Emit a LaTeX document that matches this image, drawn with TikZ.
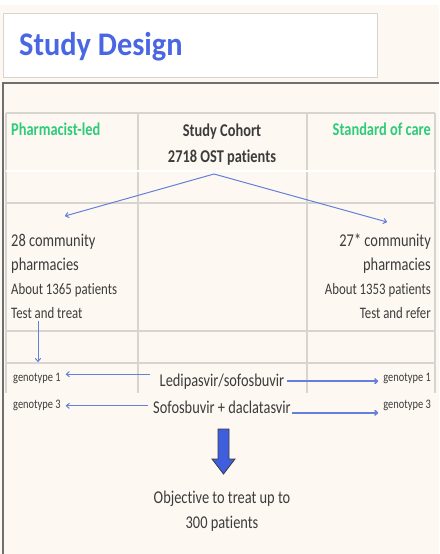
\documentclass[tikz,border=0pt]{standalone}
\usepackage{fontspec}
\setmainfont{Carlito}[FakeStretch=0.8,Ligatures=NoCommon]
\newfontfamily\titlefont{Carlito}[FakeStretch=0.92,Ligatures=NoCommon]
\usetikzlibrary{calc,arrows.meta}
\definecolor{cream}{RGB}{253,248,242}
\definecolor{titleblue}{RGB}{74,103,227}
\definecolor{armgreen}{RGB}{46,204,122}
\definecolor{txtgray}{RGB}{60,60,60}
\definecolor{gridgray}{RGB}{216,212,207}
\definecolor{edgegray}{RGB}{110,110,110}
\definecolor{linkblue}{RGB}{100,128,218}
\definecolor{bigblue}{RGB}{62,94,222}
\tikzset{
  txt/.style={inner sep=0pt,text=txtgray,font=\fontsize{18}{22}\selectfont},
  smalltxt/.style={inner sep=0pt,text=txtgray,font=\fontsize{16}{20}\selectfont},
  genotxt/.style={inner sep=0pt,text=txtgray,font=\fontsize{13}{16}\selectfont},
  boldtxt/.style={inner sep=0pt,text=txtgray,font=\bfseries\fontsize{18}{22}\selectfont},
  armtxt/.style={inner sep=0pt,text=armgreen,font=\bfseries\fontsize{18}{22}\selectfont},
  link/.style={draw=linkblue,line width=1pt,-{To[length=4pt,width=6pt]}},
  tabline/.style={draw=gridgray,line width=1.2pt},
}
\begin{document}
\begin{tikzpicture}[x=1pt,y=-1pt]
    \useasboundingbox (0,0) rectangle (439,554);
    \fill[white] (0,0) rectangle (439,554);
    \fill[cream] (0,5) rectangle (439,554);
    \draw[gridgray,fill=white,line width=1pt] (3,13) rectangle (377,77);
    \node[anchor=base west,inner sep=0pt,text=titleblue,font=\titlefont\bfseries\fontsize{33}{36}\selectfont] (title) at (19,55) {Study Design};
    \draw[edgegray,line width=1.5pt] (439,83) -- (3,83) -- (3,554);
    \draw[tabline] (6,113) -- (435,113);
    \draw[tabline] (6,203) -- (435,203);
    \draw[tabline] (6,331) -- (435,331);
    \draw[tabline] (6,363) -- (435,363);
    \foreach \x in {6,138,307,435}
        \draw[tabline] (\x,113) -- (\x,393);
    \draw[white,line width=1.5pt] (6,171) -- (435,171);
    \node[armtxt,anchor=base west] (plead) at (11,135) {Pharmacist-led};
    \node[boldtxt,anchor=base] (cohort) at (222,136) {Study Cohort};
    \node[boldtxt,anchor=base] (ost) at (222,162) {2718 OST patients};
    \node[armtxt,anchor=base east] (soc) at (431,135) {Standard of care};
    \node[txt,anchor=base west] (pl1) at (11,246) {28 community};
    \node[txt,anchor=base west] (pl2) at (11,270) {pharmacies};
    \node[smalltxt,anchor=base west] (pl3) at (11,294) {About 1365 patients};
    \node[smalltxt,anchor=base west] (pl4) at (11,318) {Test and treat};
    \node[txt,anchor=base east] (sc1) at (431,246) {27* community};
    \node[txt,anchor=base east] (sc2) at (431,270) {pharmacies};
    \node[smalltxt,anchor=base east] (sc3) at (431,294) {About 1353 patients};
    \node[smalltxt,anchor=base east] (sc4) at (431,318) {Test and refer};
    \node[genotxt,anchor=base west] (g1l) at (13,381) {genotype 1};
    \node[genotxt,anchor=base east] (g1r) at (431,381) {genotype 1};
    \node[genotxt,anchor=base west] (g3l) at (13,408) {genotype 3};
    \node[genotxt,anchor=base east] (g3r) at (431,408) {genotype 3};
    \node[txt,anchor=base] (lds) at (222,386) {Ledipasvir/sofosbuvir};
    \node[txt,anchor=base] (sdc) at (222,413) {Sofosbuvir + daclatasvir};
    \node[txt,anchor=base] (obj1) at (222,503) {Objective to treat up to};
    \node[txt,anchor=base] (obj2) at (222,528) {300 patients};
    \coordinate (split) at (214,174);
    \coordinate (plin) at (65,216);
    \coordinate (scin) at (387,222);
    \coordinate (ttout) at (38,321);
    \coordinate (g1in) at (38,362);
    \draw[link] (split) -- (plin);
    \draw[link] (split) -- (scin);
    \draw[link] (ttout) -- (g1in);
    \draw[link] ([xshift=-10pt,yshift=7pt]lds.west) -- ([xshift=5pt,yshift=7pt]lds.west -| g1l.east);
    \draw[link,line width=1.5pt] ([xshift=3pt]lds.east) -- ([xshift=-5pt]lds.east -| g1r.west);
    \draw[link] ([xshift=-5pt,yshift=1pt]sdc.west) -- ([xshift=5pt,yshift=1pt]sdc.west -| g3l.east);
    \draw[link,line width=1.5pt] ([xshift=1pt,yshift=-6pt]sdc.east) -- ([xshift=-5pt,yshift=-6pt]sdc.east -| g3r.west);
    \fill[bigblue,draw=txtgray,line width=0.8pt] (218,429) -- (229,429) -- (229,459) -- (235,459) -- (223.5,474) -- (212,459) -- (218,459) -- cycle;
\end{tikzpicture}
\end{document}
